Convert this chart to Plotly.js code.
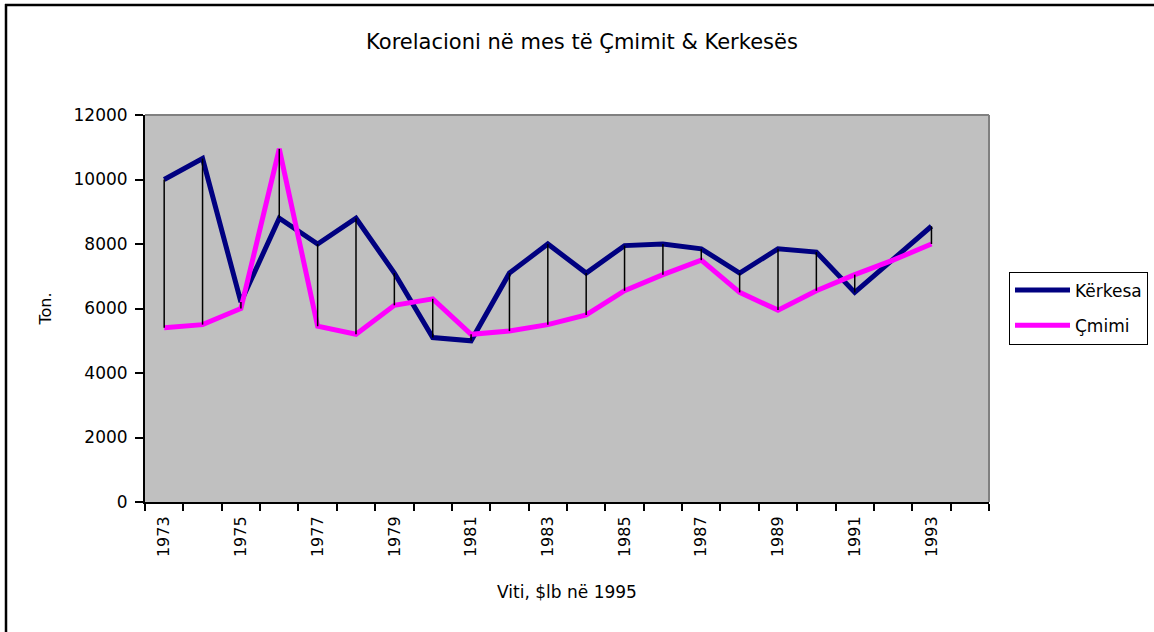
<!DOCTYPE html>
<html>
<head>
<meta charset="utf-8">
<script src="https://cdn.plot.ly/plotly-3.0.1.min.js"></script>
<style>
  html, body { margin: 0; padding: 0; background: #fff; }
  #chart { width: 1154px; height: 632px; }
</style>
</head>
<body>
<div id="chart"></div>
<script>
// Data
const years = [1973,1974,1975,1976,1977,1978,1979,1980,1981,1982,1983,1984,1985,1986,1987,1988,1989,1990,1991,1992,1993];
const kerkesa = [10000,10650,6200,8800,8000,8800,7100,5100,5000,7100,8000,7100,7950,8000,7850,7100,7850,7750,6500,7500,8550];
const cmimi   = [5400,5500,6000,10950,5450,5200,6100,6300,5200,5300,5500,5800,6550,7050,7500,6500,5950,6550,7050,7500,8000];
const tickYears = [1973,1975,1977,1979,1981,1983,1985,1987,1989,1991,1993];
const yTicks = [0,2000,4000,6000,8000,10000,12000];

// hi-low connector lines built from the two series
const hlX = [], hlY = [];
years.forEach((yr, i) => { hlX.push(yr, yr, null); hlY.push(kerkesa[i], cmimi[i], null); });

// category boundaries for tick marks
const bounds = [];
for (let b = years[0] - 0.5; b <= years[years.length - 1] + 1.5; b += 1) bounds.push(b);

const W = 1154, H = 632, L = 145, R = 165, T = 115, B = 130;
const pw = W - L - R, ph = H - T - B;
const px = v => (v - L) / pw;
const py = v => (H - B - v) / ph;

const font = "'DejaVu Sans', Arial, sans-serif";

const traces = [
  { x: years, y: kerkesa, name: 'Kërkesa', type: 'scatter', mode: 'lines', legendgroup: 'a',
    line: { color: '#000080', width: 5 } },
  { x: years, y: cmimi, name: 'Çmimi', type: 'scatter', mode: 'lines', legendgroup: 'b',
    line: { color: '#FF00FF', width: 5 } },
  { x: hlX, y: hlY, type: 'scatter', mode: 'lines', showlegend: false, hoverinfo: 'skip',
    line: { color: '#000000', width: 1.5 } }
];

const layout = {
  width: W, height: H,
  margin: { l: L, r: R, t: T, b: B, autoexpand: false },
  paper_bgcolor: '#ffffff',
  plot_bgcolor: '#C0C0C0',
  font: { family: font, color: '#000', size: 16 },
  title: { text: 'Korelacioni në mes të Çmimit & Kerkesës', font: { family: font, size: 21, color: '#000' },
           x: px(582), xanchor: 'center', xref: 'paper', y: 1 - 42 / H, yanchor: 'middle' },
  xaxis: {
    range: [years[0] - 0.5, years[years.length - 1] + 1.5],
    tickmode: 'array', tickvals: tickYears, ticktext: tickYears.map(String),
    ticks: '', tickangle: -90, tickfont: { size: 16 }, ticklabelstandoff: 6,
    showgrid: false, zeroline: false,
    showline: true, linecolor: '#000', linewidth: 2,
    minor: { tickmode: 'array', tickvals: bounds, ticks: 'outside', ticklen: 7, tickwidth: 2, tickcolor: '#000', showgrid: false },
    title: { text: 'Viti, $lb në 1995', font: { size: 17 }, standoff: 30 }
  },
  yaxis: {
    range: [0, 12000],
    tickmode: 'array', tickvals: yTicks, ticktext: yTicks.map(String),
    ticks: 'outside', ticklen: 8, tickwidth: 2, tickcolor: '#000',
    tickfont: { size: 17 }, ticklabelstandoff: 4,
    showgrid: false, zeroline: false,
    showline: true, linecolor: '#000', linewidth: 2,
    title: { text: 'Ton.', font: { size: 16 }, standoff: 18 }
  },
  legend: {
    x: px(1009), xanchor: 'left', y: py(308), yanchor: 'middle',
    bordercolor: '#000', borderwidth: 1, bgcolor: '#fff',
    font: { size: 17 }, tracegroupgap: 10, itemwidth: 55
  },
  shapes: [
    // plot area gray border top and right
    { type: 'line', xref: 'paper', yref: 'paper', x0: 0, x1: 1, y0: 1, y1: 1, line: { color: '#808080', width: 2 } },
    { type: 'line', xref: 'paper', yref: 'paper', x0: 1, x1: 1, y0: 0, y1: 1, line: { color: '#808080', width: 2 } },
    // outer chart frame (top and left edges visible)
    { type: 'line', xref: 'paper', yref: 'paper', x0: px(5), x1: px(1160), y0: py(5), y1: py(5), line: { color: '#000', width: 2.5 } },
    { type: 'line', xref: 'paper', yref: 'paper', x0: px(6), x1: px(6), y0: py(4), y1: py(640), line: { color: '#000', width: 2.5 } }
  ]
};

Plotly.newPlot('chart', traces, layout, { displayModeBar: false, staticPlot: true });
</script>
</body>
</html>
